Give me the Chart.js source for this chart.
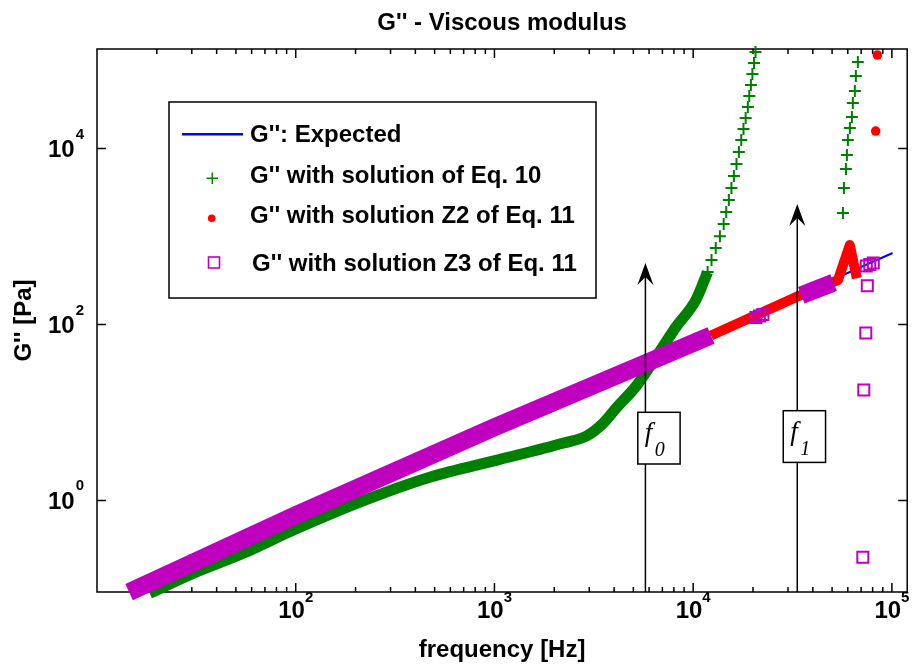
<!DOCTYPE html>
<html>
<head>
<meta charset="utf-8">
<script src="https://cdn.jsdelivr.net/npm/chart.js@4.4.1/dist/chart.umd.min.js"></script>
<style>
  html, body { margin: 0; padding: 0; background: #fff; }
</style>
</head>
<body>
<canvas id="chart" width="917" height="666"></canvas>
<script>
// values: frequency [Hz] and G'' [Pa]
const freqExpected = [14.5, 100800];
const gExpected = [0.091, 649];

// Eq. 10: dense part (markers merge into a band) and the separated crosses
const freqEq10Band = [18.4, 30.8, 54.8, 97.4, 223, 477, 1032, 2231, 2908, 3536, 4108, 5171, 6510, 8195, 10316, 11820];
const gEq10Band = [0.088, 0.150, 0.253, 0.462, 1.01, 1.85, 2.88, 4.50, 5.41, 7.61, 11.3, 20.0, 42.7, 93.7, 190, 395];
const freqEq10 = [11820, 12370, 12990, 13630, 14240, 14670, 15120, 15580, 16030, 16520, 16980, 17460, 17910, 18370, 18840, 19160, 19520, 19860, 20230, 20590,
                  56700, 57360, 58700, 59380, 60060, 61460, 62900, 63600, 65100, 65860, 67400];
const gEq10 = [395, 541, 740, 1010, 1390, 1900, 2600, 3560, 4870, 6670, 9120, 12500, 16700, 22200, 29600, 39500, 52700, 70300, 93700, 125000,
               1850, 3560, 5850, 8440, 12500, 17100, 22800, 32900, 45000, 66700, 96200];

// Z2 of Eq. 11
const freqZ2Band = [12300, 33800, 53500, 61400, 66600];
const gZ2Band = [75, 210, 320, 800, 335];
const freqZ2 = [82900, 84500];
const gZ2 = [15800, 115500];

// Z3 of Eq. 11
const freqZ3BandLow = [14.5, 100, 1000, 12300];
const gZ3BandLow = [0.091, 0.68, 6.8, 75];
const freqZ3BandHigh = [35000, 50900];
const gZ3BandHigh = [215, 300];
const freqZ3 = [20700, 21550, 22430, 74300, 77400, 80600, 75200, 73900, 72200, 71400];
const gZ3 = [120, 125, 130, 462, 481, 501, 276, 80, 18, 0.227];

// axis ticks
const xTickValues = [100, 1000, 10000, 100000];
const xTickExp = ['2', '3', '4', '5'];
const yTickValues = [1, 100, 10000];
const yTickExp = ['0', '2', '4'];

const seriesNames = ["G'': Expected", "G'' with solution of Eq. 10", "G'' with solution Z2 of Eq. 11", "G'' with solution Z3 of Eq. 11"];

// f0 / f1 markers
const markerFreq = [5750, 33400];
const markerSub = ['0', '1'];
const markerTipG = [500, 2340];

const FONT = "'Liberation Sans', Arial, sans-serif";
const SERIF = "'Liberation Serif', 'Times New Roman', serif";
const BLUE = '#0000ff', GREEN = '#008000', RED = '#ff0000', PURPLE = '#bf00bf';

const pts = (fs, gs) => fs.map((f, i) => ({ x: f, y: gs[i] }));

const frame = {
    id: 'frame',
    beforeDatasetsDraw(chart) {
        const { ctx, chartArea: a, scales: { x, y } } = chart;
        ctx.save();
        ctx.strokeStyle = '#000';
        ctx.lineWidth = 1.5;
        ctx.strokeRect(a.left, a.top, a.right - a.left, a.bottom - a.top);
        ctx.beginPath();
        for (let e = 1; e <= 5; e++) {
            for (let m = 1; m <= 9; m++) {
                const v = m * Math.pow(10, e);
                if (v <= x.min || v > x.max) continue;
                const px = x.getPixelForValue(v);
                const len = m === 1 ? 9 : 5;
                ctx.moveTo(px, a.bottom); ctx.lineTo(px, a.bottom - len);
                ctx.moveTo(px, a.top); ctx.lineTo(px, a.top + len);
            }
        }
        yTickValues.forEach(v => {
            const py = y.getPixelForValue(v);
            ctx.moveTo(a.left, py); ctx.lineTo(a.left + 9, py);
            ctx.moveTo(a.right, py); ctx.lineTo(a.right - 9, py);
        });
        ctx.stroke();

        // tick labels: 10 with exponent
        ctx.fillStyle = '#000';
        ctx.textBaseline = 'alphabetic';
        const big = 'bold 24px ' + FONT, small = 'bold 15px ' + FONT;
        xTickValues.forEach((v, i) => {
            const px = x.getPixelForValue(v);
            ctx.font = big; const w1 = ctx.measureText('10').width;
            ctx.font = small; const w2 = ctx.measureText(xTickExp[i]).width;
            const x0 = px - (w1 + w2) / 2;
            ctx.font = big; ctx.textAlign = 'left'; ctx.fillText('10', x0, a.bottom + 26);
            ctx.font = small; ctx.fillText(xTickExp[i], x0 + w1, a.bottom + 10);
        });
        yTickValues.forEach((v, i) => {
            const py = y.getPixelForValue(v);
            ctx.font = small; const w2 = ctx.measureText(yTickExp[i]).width;
            ctx.textAlign = 'right';
            ctx.fillText(yTickExp[i], 84, py - 10);
            ctx.font = big;
            ctx.fillText('10', 84 - w2 - 1, py + 8.5);
        });
        ctx.restore();
    }
};

const annotations = {
    id: 'annotations',
    afterDatasetsDraw(chart) {
        const { ctx, chartArea: a, scales: { x, y } } = chart;
        ctx.save();
        markerFreq.forEach((f, i) => {
            const px = x.getPixelForValue(f);
            const tip = y.getPixelForValue(markerTipG[i]);
            ctx.strokeStyle = '#000';
            ctx.lineWidth = 1.5;
            ctx.beginPath();
            ctx.moveTo(px, a.bottom);
            ctx.lineTo(px, tip + 10);
            ctx.stroke();
            ctx.fillStyle = '#000';
            ctx.beginPath();
            ctx.moveTo(px, tip);
            ctx.lineTo(px + 8, tip + 22);
            ctx.lineTo(px, tip + 14);
            ctx.lineTo(px - 8, tip + 22);
            ctx.closePath();
            ctx.fill();

            // label box
            const bx = i === 0 ? px - 7.6 : px - 14;
            const by = i === 0 ? 412.3 : 410.7;
            ctx.fillStyle = '#fff';
            ctx.fillRect(bx, by, 42.3, 51.7);
            ctx.strokeRect(bx, by, 42.3, 51.7);
            ctx.fillStyle = '#000';
            ctx.textAlign = 'left';
            ctx.textBaseline = 'alphabetic';
            ctx.font = 'italic 27px ' + SERIF;
            ctx.fillText('f', bx + 7, by + 29);
            ctx.font = 'italic 20px ' + SERIF;
            ctx.fillText(markerSub[i], bx + 17, by + 44);
        });
        ctx.restore();
    }
};

const legendBox = {
    id: 'legendBox',
    afterDatasetsDraw(chart) {
        const { ctx } = chart;
        ctx.save();
        ctx.fillStyle = '#fff';
        ctx.fillRect(169, 102, 427, 196);
        ctx.strokeStyle = '#000';
        ctx.lineWidth = 1.5;
        ctx.strokeRect(169, 102, 427, 196);
        const rows = [135.5, 176, 216, 264];
        // expected: line sample
        ctx.strokeStyle = BLUE; ctx.lineWidth = 2.5;
        ctx.beginPath(); ctx.moveTo(182, 134.3); ctx.lineTo(243, 134.3); ctx.stroke();
        // eq 10: cross
        ctx.strokeStyle = GREEN; ctx.lineWidth = 1.5;
        ctx.beginPath();
        ctx.moveTo(206.5, 178.3); ctx.lineTo(218, 178.3);
        ctx.moveTo(212.3, 172.5); ctx.lineTo(212.3, 184);
        ctx.stroke();
        // Z2: red star
        ctx.fillStyle = RED;
        ctx.beginPath(); ctx.arc(211.7, 218.3, 3.8, 0, Math.PI * 2); ctx.fill();
        // Z3: hollow square
        ctx.strokeStyle = PURPLE; ctx.lineWidth = 1.6;
        ctx.strokeRect(208.5, 257, 11, 11);
        ctx.fillStyle = '#000';
        ctx.font = 'bold 24px ' + FONT;
        ctx.textAlign = 'left';
        ctx.textBaseline = 'middle';
        seriesNames.forEach((s, i) => ctx.fillText(s, i === 3 ? 252 : 250, rows[i]));
        ctx.restore();
    }
};

new Chart(document.getElementById('chart'), {
    type: 'scatter',
    data: {
        datasets: [
            { label: seriesNames[0], data: pts(freqExpected, gExpected), showLine: true,
              borderColor: BLUE, borderWidth: 2, pointRadius: 0, order: 5, clip: false },
            { label: seriesNames[1], data: pts(freqEq10Band, gEq10Band), showLine: true,
              borderColor: GREEN, borderWidth: 11, borderJoinStyle: 'round', cubicInterpolationMode: 'monotone',
              pointRadius: 0, order: 4, clip: false },
            { label: seriesNames[1], data: pts(freqEq10, gEq10), showLine: false,
              pointStyle: 'cross', pointRadius: 6, pointBorderColor: GREEN, pointBorderWidth: 2, order: 4, clip: false },
            { label: seriesNames[2], data: pts(freqZ2Band, gZ2Band), showLine: true,
              borderColor: RED, borderWidth: 10, borderJoinStyle: 'round', pointRadius: 0, order: 2, clip: false },
            { label: seriesNames[2], data: pts(freqZ2, gZ2), showLine: false,
              pointStyle: 'circle', pointRadius: 4.8, pointBackgroundColor: RED, pointBorderColor: RED, pointBorderWidth: 0, order: 2, clip: false },
            { label: seriesNames[3], data: pts(freqZ3BandLow, gZ3BandLow), showLine: true,
              borderColor: PURPLE, borderWidth: 18, pointRadius: 0, order: 0, clip: false },
            { label: seriesNames[3], data: pts(freqZ3BandHigh, gZ3BandHigh), showLine: true,
              borderColor: PURPLE, borderWidth: 18, pointRadius: 0, order: 0, clip: false },
            { label: seriesNames[3], data: pts(freqZ3, gZ3), showLine: false,
              pointStyle: 'rect', pointRadius: 7.8, pointBorderColor: PURPLE, pointBorderWidth: 2,
              pointBackgroundColor: 'rgba(0,0,0,0)', order: 0, clip: false }
        ]
    },
    options: {
        responsive: false,
        animation: false,
        events: [],
        layout: { padding: { right: 4 } },
        plugins: {
            legend: { display: false },
            tooltip: { enabled: false },
            title: {
                display: true,
                text: "G'' - Viscous modulus",
                fullSize: false,
                color: '#000',
                font: { family: FONT, size: 24, weight: 'bold' },
                padding: { top: 8.6, bottom: 11.6 }
            }
        },
        scales: {
            x: {
                type: 'logarithmic',
                min: 10,
                max: 119400,
                grid: { display: false },
                border: { display: false },
                ticks: { display: false },
                title: { display: true, text: 'frequency [Hz]', color: '#000',
                         font: { family: FONT, size: 24, weight: 'bold' }, padding: { top: 0, bottom: 1.6 } },
                afterFit: s => { s.height = 74; }
            },
            y: {
                type: 'logarithmic',
                min: 0.0912,
                max: 135200,
                grid: { display: false },
                border: { display: false },
                ticks: { display: false },
                title: { display: true, text: "G'' [Pa]", color: '#000',
                         font: { family: FONT, size: 24, weight: 'bold' }, padding: { top: 9.6, bottom: 0 } },
                afterFit: s => { s.width = 97; }
            }
        }
    },
    plugins: [frame, annotations, legendBox]
});
</script>
</body>
</html>
